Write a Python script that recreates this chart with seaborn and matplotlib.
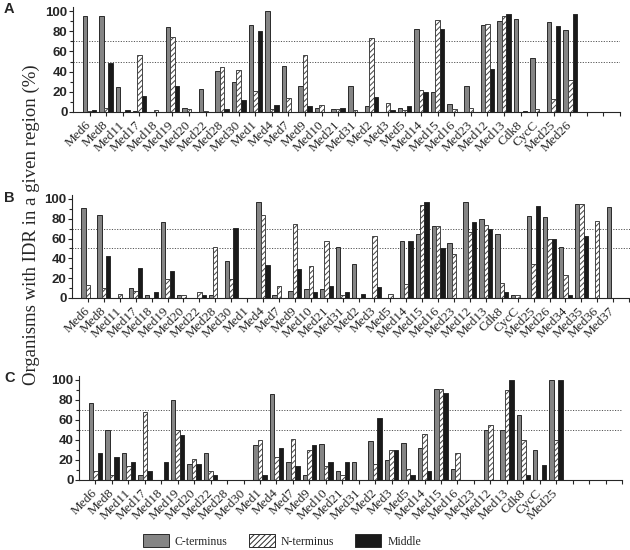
import numpy as np
import pandas as pd
import matplotlib
matplotlib.use('Agg')
import matplotlib.pyplot as plt
import seaborn as sns
from matplotlib.patches import Patch

# Protein names per panel
cats_a = ['Med6', 'Med8', 'Med11', 'Med17', 'Med18', 'Med19', 'Med20', 'Med22', 'Med28', 'Med30',
          'Med1', 'Med4', 'Med7', 'Med9', 'Med10', 'Med21', 'Med31', 'Med2', 'Med3', 'Med5',
          'Med14', 'Med15', 'Med16', 'Med23', 'Med12', 'Med13', 'Cdk8', 'CycC', 'Med25', 'Med26']
cats_b = cats_a + ['Med34', 'Med35', 'Med36', 'Med37']
cats_c = cats_a[:-1]

# Panel A values (%)
a_cterm = [95, 95, 25, 1, 0, 84, 4, 23, 41, 30, 86, 100, 46, 26, 4, 2.5, 26, 5.5, 0, 4,
           82, 19.5, 8, 26, 86.5, 90, 92, 53, 89, 81]
a_nterm = [1, 4, 0, 56, 1.5, 74, 3, 1, 45, 42, 21, 3, 14, 56.5, 7, 2.5, 1.5, 73, 8.5, 1.5,
           22, 91, 3, 4, 87.5, 95.5, 0, 3, 13, 32]
a_middle = [2, 49, 2, 16, 0, 26, 0, 0, 3, 12, 80, 7, 0, 5.5, 0, 4, 0, 14.5, 1.5, 6,
            19.5, 82, 0, 0, 43, 97, 1, 0, 85, 97]

# Panel B values (%)
b_cterm = [90.5, 84, 0, 10.5, 3.5, 77, 3.5, 0, 3.5, 37.5, 0, 97, 3.5, 7.5, 9.5, 9.5, 52, 34.5, 0, 0,
           57.5, 64.5, 73, 55.5, 96.5, 80, 64.5, 3, 82.5, 81.5, 51.5, 94.5, 0, 91.5]
b_nterm = [13.5, 10, 4, 7.5, 0, 19.5, 3.5, 6, 52, 19, 0, 83.5, 12, 75, 32.5, 58, 3, 0, 63, 4.5,
           14.5, 93.5, 73, 44.5, 66.5, 73.5, 15, 3, 34, 59.5, 23, 94.5, 77.5, 0]
b_middle = [0, 42, 0, 30, 6.5, 27, 0, 3.5, 0, 71, 0, 33.5, 0, 29, 6, 12.5, 6, 4, 11.5, 0,
            57.5, 96.5, 50, 0, 77, 70, 6, 0, 93, 59.5, 3, 63, 0, 0]

# Panel C values (%)
c_cterm = [77.5, 50, 27.5, 5, 0, 80, 16.5, 27.5, 0, 0, 35, 86.5, 18.5, 5, 36.5, 9.5, 18.5, 39, 20, 37,
           32, 91.5, 11, 0, 50, 50, 65, 30, 100]
c_nterm = [9.5, 5, 14, 68, 0, 50, 21.5, 9.5, 0, 0, 40, 23, 41, 30, 14, 5, 0, 16.5, 30, 11,
           46, 91.5, 27, 0, 55.5, 90, 40, 0, 40]
c_middle = [27.5, 23, 18.5, 9.5, 18.5, 45.5, 16.5, 5, 0, 0, 5, 32, 14, 35, 18.5, 18.5, 0, 62, 30, 5.5,
            9.5, 87, 0, 0, 0, 100, 5.5, 15.5, 100]

regions = ['C-terminus', 'N-terminus', 'Middle']
colors = {'C-terminus': '#858585', 'N-terminus': '#ffffff', 'Middle': '#1a1a1a'}

sns.set_style('ticks')
plt.rcParams['font.family'] = ['Liberation Serif', 'DejaVu Serif']
plt.rcParams['hatch.linewidth'] = 0.7

fig = plt.figure(figsize=(6.3, 5.5), dpi=100)
W, H = 630, 550


def panel(rect, cats, cterm, nterm, middle, xmax):
    left, top_px, right, bottom_px = rect
    ax = fig.add_axes([left / W, 1 - bottom_px / H, (right - left) / W, (bottom_px - top_px) / H])
    df = pd.DataFrame({
        'protein': cats * 3,
        'region': np.repeat(regions, len(cats)),
        'value': list(cterm) + list(nterm) + list(middle),
    })
    sns.barplot(data=df, x='protein', y='value', hue='region', order=cats, hue_order=regions,
                palette=colors, width=0.82, edgecolor='#2a2a2a', linewidth=0.7,
                legend=False, ax=ax)
    for bar in ax.containers[1]:
        bar.set_hatch('//////')
        bar.set_edgecolor('#444444')
    for y in (50, 70):
        ax.axhline(y, color='#555555', lw=0.7, ls=(0, (1.2, 1.5)), zorder=0)
    n_ticks = int(xmax) + 1
    ax.set_xticks(range(n_ticks))
    ax.set_xticklabels(cats + [''] * (n_ticks - len(cats)), rotation=45, ha='right',
                       va='center', rotation_mode='anchor', fontsize=9.5)
    ax.set_xlim(-1, xmax)
    ax.set_ylim(0, 104)
    ax.set_yticks(range(0, 101, 20))
    ax.set_yticks(range(10, 100, 20), minor=True)
    for lab in ax.get_yticklabels():
        lab.set_family(['Liberation Sans', 'DejaVu Sans'])
        lab.set_fontsize(9.5)
        lab.set_fontweight('bold')
    ax.tick_params(axis='x', length=3, width=0.8, pad=5)
    ax.tick_params(axis='y', which='major', length=3, width=0.8, pad=1)
    ax.tick_params(axis='y', which='minor', length=2, width=0.8, left=True)
    ax.set_xlabel('')
    ax.set_ylabel('')
    sns.despine(ax=ax)
    for s in ('left', 'bottom'):
        ax.spines[s].set_linewidth(0.8)
    return ax


panel((73, 7, 620, 112), cats_a, a_cterm, a_nterm, a_middle, 32)
panel((72, 195, 645, 298), cats_b, b_cterm, b_nterm, b_middle, 35)
panel((79, 376, 622, 480), cats_c, c_cterm, c_nterm, c_middle, 32)

for letter, ypx in (('A', 9), ('B', 198), ('C', 378)):
    fig.text(4 / W, 1 - ypx / H, letter, family=['Liberation Sans', 'DejaVu Sans'],
             fontsize=10.5, fontweight='bold', va='center', ha='left')

fig.text(31 / W, 1 - 225 / H, 'Organisms with IDR in a given region (%)', rotation=90,
         fontsize=13.5, va='center', ha='center')

handles = [Patch(facecolor=colors[r], edgecolor='#2a2a2a', linewidth=0.7,
                 hatch='//////' if r == 'N-terminus' else None) for r in regions]
fig.legend(handles, regions, ncol=3, loc='center', bbox_to_anchor=(282 / W, 1 - 541 / H),
           frameon=False, fontsize=8.5, handlelength=2.2, handleheight=1.3,
           columnspacing=1.8, handletextpad=0.5)

fig.savefig('out.png', dpi=100)
